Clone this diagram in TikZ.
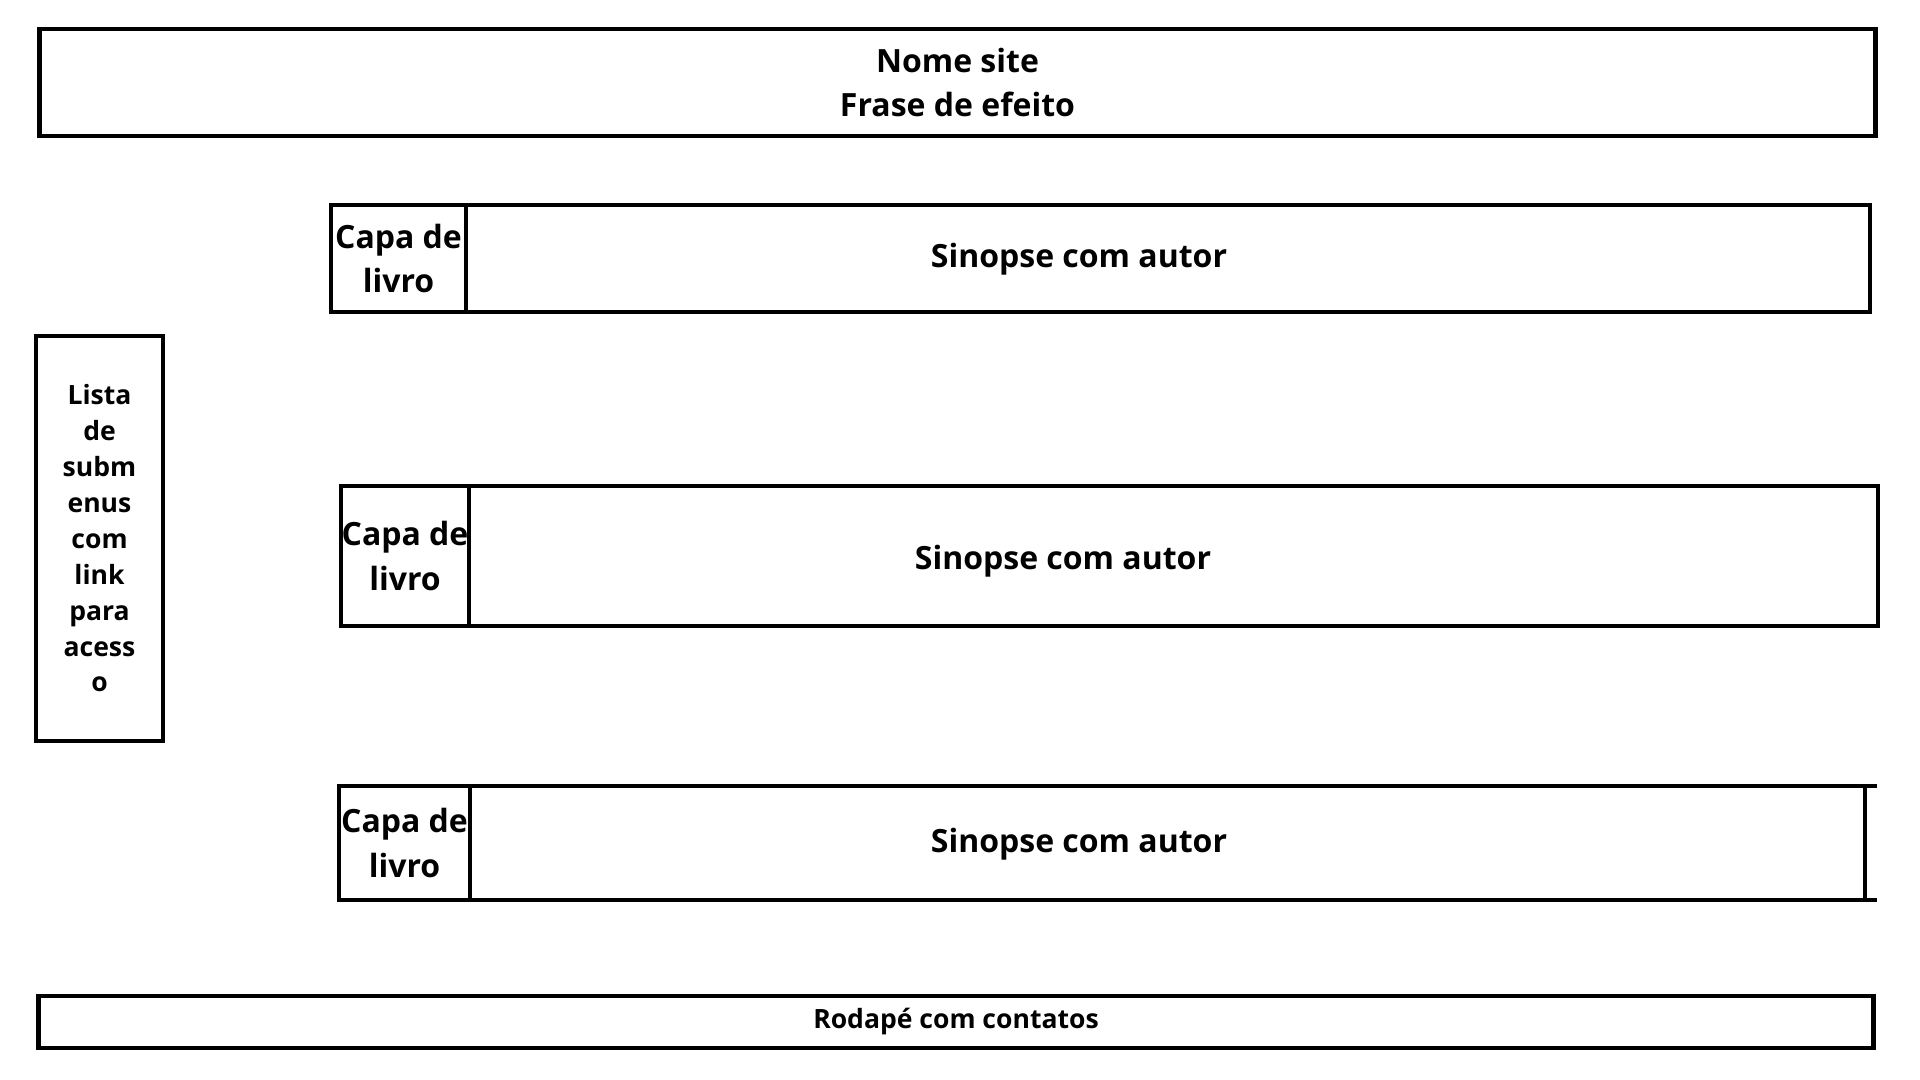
\documentclass[tikz,border=0pt]{standalone}
\usepackage{fontspec}
\setmainfont{Open Sans}
\usetikzlibrary{positioning}
\tikzset{
  wire/.style={draw, line width=1.2pt, inner sep=0pt, outer sep=0pt},
  bigtxt/.style={font=\bfseries\fontsize{9.1pt}{12.7pt}\selectfont, align=center, inner sep=0pt},
  smalltxt/.style={font=\bfseries\fontsize{7.55pt}{10.2pt}\selectfont, align=center, inner sep=0pt},
}

\begin{document}
\begin{tikzpicture}[x=0.01cm, y=-0.01cm]
  \useasboundingbox (0,0) rectangle (1920,1080);

  % cabecalho
  \node[wire, bigtxt, minimum width=18.35cm, minimum height=1.07cm] (cabec) at (957.5,82.5) {Nome site\\Frase de efeito};

  % livros
  \node[wire, bigtxt, minimum width=1.35cm, minimum height=1.07cm] (capa1) at (398.5,258.5) {Capa de\\livro};
  \node[wire, minimum width=14.03cm, minimum height=1.07cm, right=0pt of capa1] (sin1) {};
  \node[bigtxt] (txt1) at (1079,259) {Sinopse com autor};

  \node[wire, bigtxt, minimum width=1.28cm, minimum height=1.40cm] (capa2) at (405,556) {Capa de\\livro};
  \node[wire, minimum width=14.08cm, minimum height=1.40cm, right=0pt of capa2] (sin2) {};
  \node[bigtxt] (txt2) at (1063,561) {Sinopse com autor};

  \node[wire, bigtxt, minimum width=1.31cm, minimum height=1.14cm] (capa3) at (404.5,843) {Capa de\\livro};
  \node[wire, minimum width=13.94cm, minimum height=1.14cm, right=0pt of capa3] (sin3) {};
  \node[bigtxt] (txt3) at (1079,844) {Sinopse com autor};
  \draw[line width=1.2pt] (sin3.north east) -- ++(12,0);
  \draw[line width=1.2pt] (sin3.south east) -- ++(12,0);

  % menu lateral
  \node[wire, smalltxt, minimum width=1.27cm, minimum height=4.05cm] (menu) at (99.5,538.5) {Lista\\de\\subm\\enus\\com\\link\\para\\acess\\o};

  % rodape
  \node[wire, smalltxt, minimum width=18.34cm, minimum height=0.52cm] (rodape) at (956,1022) {Rodapé com contatos};
\end{tikzpicture}
\end{document}
